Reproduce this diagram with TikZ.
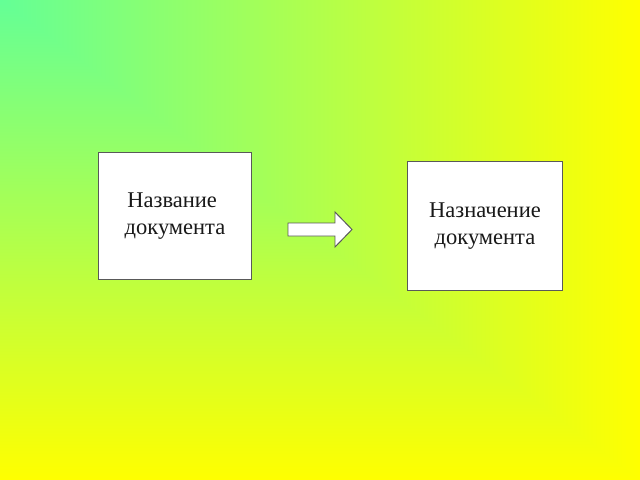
\documentclass[tikz,border=0pt]{standalone}
\usepackage{fontspec}
\setmainfont{Liberation Serif}
\definecolor{bgtop}{RGB}{100,255,150}
\definecolor{bgend}{RGB}{255,255,0}
\tikzset{docbox/.style={draw=black!65, line width=0.7pt, fill=white, align=center, text=black!90, font=\fontsize{16}{19}\selectfont}}
\begin{document}
\begin{tikzpicture}[x=0.025cm,y=-0.025cm]
\useasboundingbox (0,0) rectangle (640,480);
% background, from the top left corner
\shade[left color=bgtop, right color=bgend] (0,0) rectangle (640,480);
\begin{scope}
\clip (0,0) -- (0,480) -- (640,480) -- cycle;
\shade[top color=bgtop, bottom color=bgend] (0,0) rectangle (640,480);
\end{scope}
\node[docbox, minimum width=3.8cm, minimum height=3.175cm] (nazv) at (175,216) {Название\hspace*{0.25em}\\документа};
\node[docbox, minimum width=3.85cm, minimum height=3.2cm] (nazn) at (485,226) {Назначение\\документа};
\draw[draw=black!65, line width=0.7pt, fill=white] (288,223) -- (335,223) -- (335,212) -- (352,229.5) -- (335,247) -- (335,236) -- (288,236) -- cycle; % edit here for the arrow
\end{tikzpicture}
\end{document}
